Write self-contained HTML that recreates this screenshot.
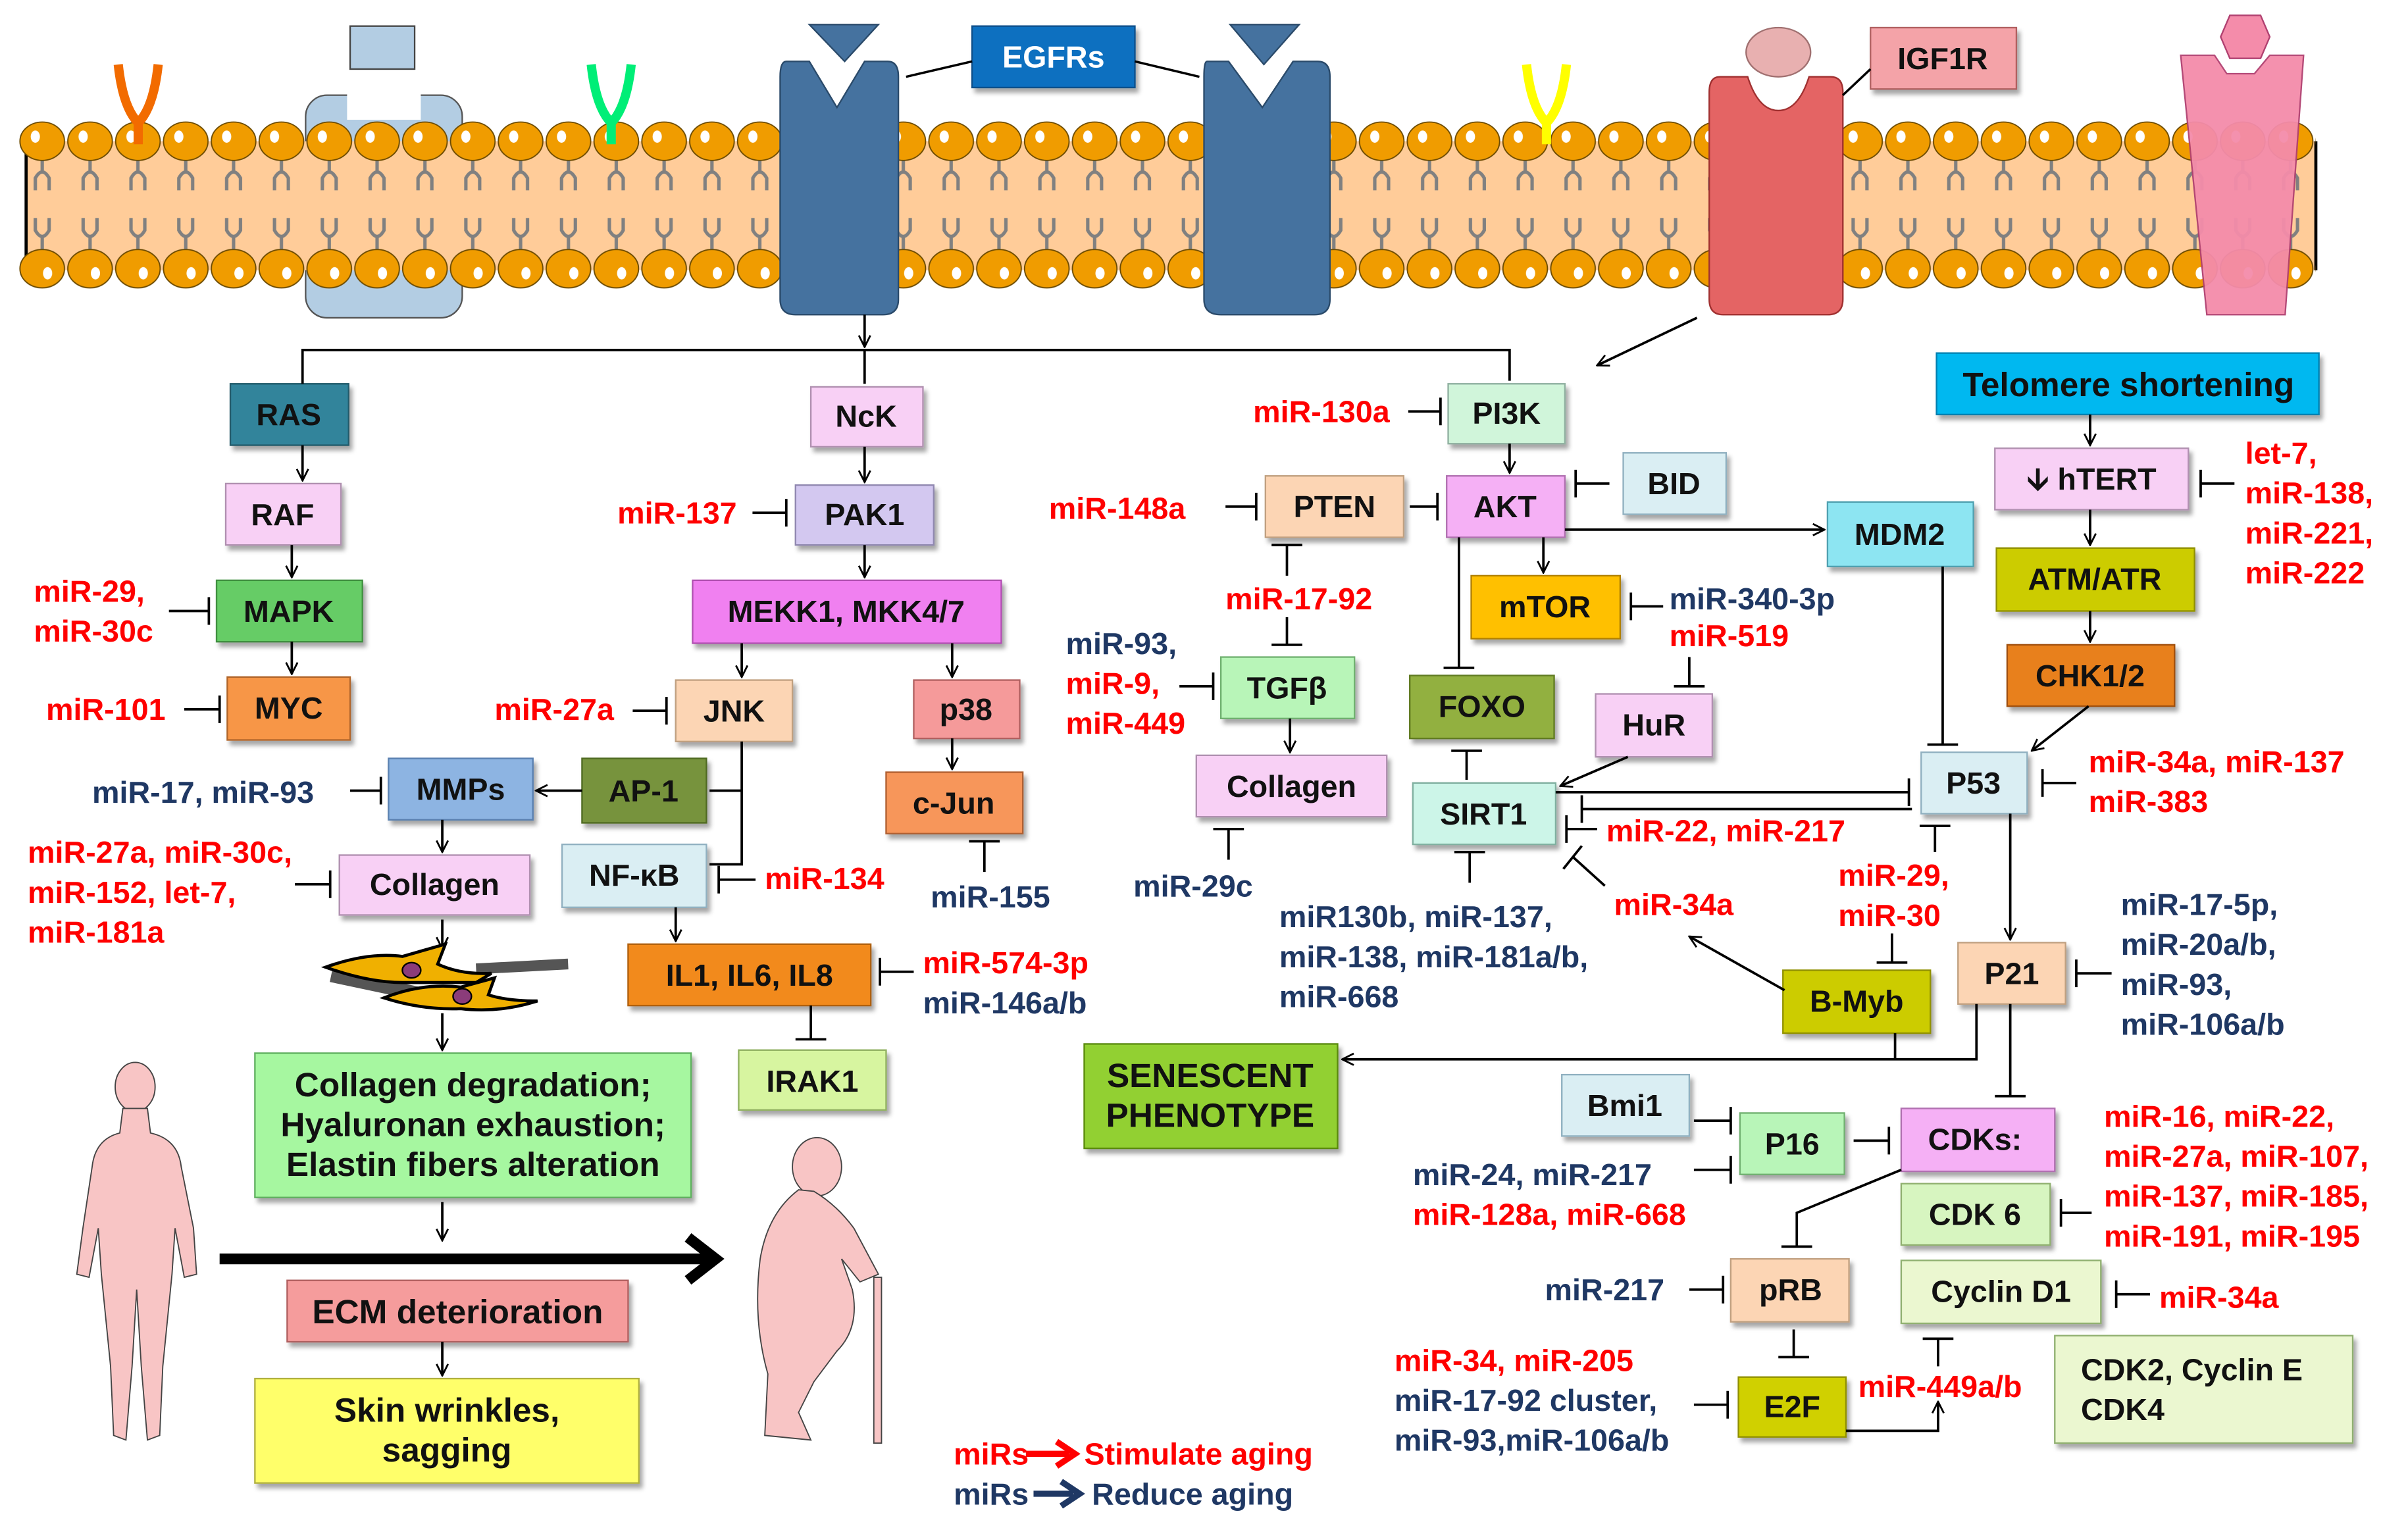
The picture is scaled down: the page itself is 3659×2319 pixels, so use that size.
<!DOCTYPE html>
<html><head><meta charset="utf-8"><style>
html,body{margin:0;padding:0;background:#fff;}
svg{display:block;}
text{font-family:"Liberation Sans",Arial,sans-serif;font-weight:bold;}
</style></head><body>
<svg width="3659" height="2319" viewBox="0 0 1568 994" preserveAspectRatio="none" xmlns="http://www.w3.org/2000/svg">
<defs>
<marker id="ar" viewBox="0 0 12 12" refX="11" refY="6" markerWidth="9" markerHeight="9" orient="auto" markerUnits="userSpaceOnUse">
<path d="M1,1 L11,6 L1,11" fill="none" stroke="#000" stroke-width="1.6"/></marker>
<pattern id="lip" x="12" y="78" width="31.15" height="112" patternUnits="userSpaceOnUse">
<g stroke="#808080" stroke-width="2.2" fill="none">
<path d="M15.5,24 V34 M11,46 V38 Q15.5,30 20,38 V46"/>
<path d="M15.5,86 V76 M11,64 V72 Q15.5,80 20,72 V64"/>
</g>
<ellipse cx="15.5" cy="14" rx="14.5" ry="12.5" fill="#F09C00" stroke="#6b4a00" stroke-width="0.8"/>
<ellipse cx="11" cy="11" rx="3" ry="4" fill="#fff"/>
<ellipse cx="15.5" cy="97" rx="14.5" ry="12.5" fill="#F09C00" stroke="#6b4a00" stroke-width="0.8"/>
<ellipse cx="19" cy="100" rx="3" ry="4" fill="#fff"/>
</pattern>
<filter id="sh" x="-10%" y="-10%" width="130%" height="140%"><feDropShadow dx="2" dy="3" stdDeviation="1.5" flood-color="#000" flood-opacity="0.35"/></filter>
</defs>

<!-- membrane -->
<rect x="199" y="62" width="102" height="145" rx="14" fill="#B3CDE3" stroke="#555" stroke-width="1"/>
<rect x="226" y="60" width="48" height="18" fill="#fff"/>
<rect x="228" y="17" width="42" height="28" fill="#B3CDE3" stroke="#444" stroke-width="1"/>
<rect x="17" y="92" width="1491" height="84" fill="#FFCC99"/>
<line x1="17" y1="92" x2="17" y2="176" stroke="#000" stroke-width="2"/>
<line x1="1508" y1="92" x2="1508" y2="176" stroke="#000" stroke-width="2"/>
<rect x="12" y="78" width="1496" height="112" fill="url(#lip)"/>
<path d="M77,42 Q80,70 90,80 Q100,70 103,42" fill="none" stroke="#F26B00" stroke-width="6"/><line x1="90" y1="78" x2="90" y2="94" stroke="#F26B00" stroke-width="6"/>
<path d="M385,42 Q388,70 398,80 Q408,70 411,42" fill="none" stroke="#00EE77" stroke-width="6"/><line x1="398" y1="78" x2="398" y2="94" stroke="#00EE77" stroke-width="6"/>
<path d="M994,42 Q997,70 1007,80 Q1017,70 1020,42" fill="none" stroke="#FFFF00" stroke-width="6"/><line x1="1007" y1="78" x2="1007" y2="94" stroke="#FFFF00" stroke-width="6"/>
<path d="M512,40 H527 L545,70 L563,40 H578 Q585,40 585,50 V195 Q585,205 575,205 H518 Q508,205 508,195 V50 Q508,40 512,40 Z" fill="#45729F" stroke="#2a4a6a" stroke-width="1"/>
<path d="M527,16 H572 L550,40 Z" fill="#45729F" stroke="#2a4a6a"/>
<path d="M786,40 H800 L822,70 L842,40 H858 Q866,40 866,50 V195 Q866,205 856,205 H795 Q784,205 784,195 V50 Q784,40 786,40 Z" fill="#45729F" stroke="#2a4a6a" stroke-width="1"/>
<path d="M801,16 H846 L823,42 Z" fill="#45729F" stroke="#2a4a6a"/>
<path d="M1120,50 H1138 Q1145,72 1158,72 Q1171,72 1178,50 H1192 Q1200,50 1200,60 V195 Q1200,205 1190,205 H1122 Q1113,205 1113,195 V60 Q1113,50 1120,50 Z" fill="#E46464" stroke="#a03030" stroke-width="1"/>
<ellipse cx="1158" cy="34" rx="21" ry="16" fill="#E8B0B0" stroke="#a07070"/>
<path d="M1420,36 H1442 L1450,48 H1468 L1478,36 H1500 L1488,205 H1437 Z" fill="#F48CAA" stroke="#b04070" stroke-width="1" opacity="0.95"/>
<path d="M1446,24 L1452,10 H1472 L1478,24 L1472,38 H1452 Z" fill="#F48CAA" stroke="#b04070"/>

<g filter="url(#sh)">
<rect x="633" y="17" width="106" height="40" fill="#0C6FC0" stroke="#0a4f8a"/>
<rect x="1218" y="18" width="95" height="40" fill="#F4A3A8" stroke="#b06060"/>
</g>
<text x="686" y="44" font-size="20" fill="#fff" text-anchor="middle">EGFRs</text>
<text x="1265" y="45" font-size="20" fill="#111" text-anchor="middle">IGF1R</text>
<line x1="633" y1="40" x2="590" y2="50" stroke="#000" stroke-width="1.5"/>
<line x1="739" y1="40" x2="781" y2="50" stroke="#000" stroke-width="1.5"/>
<line x1="1218" y1="45" x2="1200" y2="62" stroke="#000" stroke-width="1.5"/>

<g filter="url(#sh)" stroke-width="1">
<rect x="150" y="250" width="77" height="40" fill="#31849B" stroke="#205a6a"/>
<rect x="147" y="315" width="75" height="40" fill="#F8D0F5" stroke="#b090b0"/>
<rect x="141" y="378" width="95" height="40" fill="#66CC66" stroke="#3f8f3f"/>
<rect x="148" y="441" width="80" height="41" fill="#F79646" stroke="#b0652a"/>
<rect x="253" y="494" width="94" height="40" fill="#8DB4E2" stroke="#5a80b0"/>
<rect x="379" y="494" width="81" height="42" fill="#77933C" stroke="#4f6a20"/>
<rect x="221" y="557" width="124" height="39" fill="#F8D0F5" stroke="#b090b0"/>
<rect x="366" y="550" width="94" height="41" fill="#DAEEF3" stroke="#90b0c0"/>
<rect x="528" y="252" width="73" height="39" fill="#F8D0F5" stroke="#b090b0"/>
<rect x="518" y="316" width="90" height="39" fill="#D3C8F0" stroke="#9088b0"/>
<rect x="451" y="378" width="201" height="41" fill="#F080F0" stroke="#b050b0"/>
<rect x="440" y="443" width="76" height="40" fill="#FCD5B4" stroke="#c0a080"/>
<rect x="595" y="443" width="69" height="38" fill="#F59A9A" stroke="#b06060"/>
<rect x="577" y="503" width="89" height="40" fill="#F7965A" stroke="#b06030"/>
<rect x="409" y="615" width="158" height="40" fill="#F28A1E" stroke="#b06010"/>
<rect x="481" y="684" width="96" height="39" fill="#D7F5A0" stroke="#90b060"/>
<rect x="166" y="686" width="284" height="94" fill="#A6F7A0" stroke="#60b060"/>
<rect x="187" y="834" width="222" height="40" fill="#F59C9C" stroke="#b06060"/>
<rect x="166" y="898" width="250" height="68" fill="#FFFF6A" stroke="#b0b040"/>
<rect x="943" y="250" width="76" height="39" fill="#D0F5DA" stroke="#90b0a0"/>
<rect x="824" y="310" width="90" height="40" fill="#FCD5B4" stroke="#c0a080"/>
<rect x="942" y="310" width="77" height="40" fill="#F5B0F5" stroke="#b070b0"/>
<rect x="1057" y="295" width="67" height="40" fill="#DAEEF3" stroke="#90b0c0"/>
<rect x="1190" y="327" width="95" height="42" fill="#8DE5F2" stroke="#50a0b0"/>
<rect x="958" y="375" width="97" height="41" fill="#FFC000" stroke="#b08000"/>
<rect x="918" y="440" width="94" height="41" fill="#92B040" stroke="#607a20"/>
<rect x="1039" y="452" width="76" height="41" fill="#F8D0F5" stroke="#b090b0"/>
<rect x="795" y="428" width="87" height="40" fill="#B8F5B8" stroke="#70b070"/>
<rect x="779" y="492" width="124" height="40" fill="#F8D0F5" stroke="#b090b0"/>
<rect x="920" y="510" width="93" height="40" fill="#CCF5E8" stroke="#80b0a0"/>
<rect x="1251" y="490" width="69" height="40" fill="#DAEEF3" stroke="#90b0c0"/>
<rect x="1261" y="230" width="249" height="40" fill="#00B8F0" stroke="#0080b0"/>
<rect x="1299" y="292" width="126" height="40" fill="#F8D0F5" stroke="#b090b0"/>
<rect x="1300" y="357" width="129" height="41" fill="#CCCC00" stroke="#909000"/>
<rect x="1307" y="420" width="109" height="40" fill="#E8801E" stroke="#a05010"/>
<rect x="1275" y="614" width="70" height="40" fill="#FCD5B4" stroke="#c0a080"/>
<rect x="1161" y="632" width="96" height="41" fill="#CCCC00" stroke="#909000"/>
<rect x="706" y="680" width="165" height="68" fill="#92D030" stroke="#5a8a10"/>
<rect x="1017" y="700" width="83" height="40" fill="#DAEEF3" stroke="#90b0c0"/>
<rect x="1133" y="725" width="68" height="40" fill="#B8F5B8" stroke="#70b070"/>
<rect x="1238" y="722" width="100" height="41" fill="#F5B0F5" stroke="#b070b0"/>
<rect x="1238" y="771" width="97" height="40" fill="#D7F5C0" stroke="#90b070"/>
<rect x="1238" y="821" width="130" height="41" fill="#EBF7D0" stroke="#90b070"/>
<rect x="1338" y="870" width="194" height="70" fill="#EBF7D0" stroke="#90b070"/>
<rect x="1127" y="820" width="77" height="41" fill="#FCD5B4" stroke="#c0a080"/>
<rect x="1132" y="897" width="70" height="39" fill="#D0D000" stroke="#909000"/>
</g>

<g font-size="20" fill="#111" text-anchor="middle">
<text x="188" y="277">RAS</text>
<text x="184" y="342">RAF</text>
<text x="188" y="405">MAPK</text>
<text x="188" y="468">MYC</text>
<text x="300" y="521">MMPs</text>
<text x="419" y="522">AP-1</text>
<text x="283" y="583">Collagen</text>
<text x="413" y="577">NF-κB</text>
<text x="564" y="278">NcK</text>
<text x="563" y="342">PAK1</text>
<text x="551" y="405">MEKK1, MKK4/7</text>
<text x="478" y="470">JNK</text>
<text x="629" y="469">p38</text>
<text x="621" y="530">c-Jun</text>
<text x="488" y="642">IL1, IL6, IL8</text>
<text x="529" y="711">IRAK1</text>
<text x="981" y="276">PI3K</text>
<text x="869" y="337">PTEN</text>
<text x="980" y="337">AKT</text>
<text x="1090" y="322">BID</text>
<text x="1237" y="355">MDM2</text>
<text x="1006" y="402">mTOR</text>
<text x="965" y="467">FOXO</text>
<text x="1077" y="479">HuR</text>
<text x="838" y="455">TGFβ</text>
<text x="841" y="519">Collagen</text>
<text x="966" y="537">SIRT1</text>
<text x="1285" y="517">P53</text>
<text x="1362" y="319">🡫 hTERT</text>
<text x="1364" y="384">ATM/ATR</text>
<text x="1361" y="447">CHK1/2</text>
<text x="1310" y="641">P21</text>
<text x="1209" y="659">B-Myb</text>
<text x="1058" y="727">Bmi1</text>
<text x="1167" y="752">P16</text>
<text x="1286" y="749">CDKs:</text>
<text x="1286" y="798">CDK 6</text>
<text x="1303" y="848">Cyclin D1</text>
<text x="1166" y="847">pRB</text>
<text x="1167" y="923">E2F</text>
</g>
<g font-size="22" fill="#111" text-anchor="middle">
<text x="308" y="714">Collagen degradation;</text>
<text x="308" y="740">Hyaluronan exhaustion;</text>
<text x="308" y="766">Elastin fibers alteration</text>
<text x="298" y="862">ECM deterioration</text>
<text x="291" y="926">Skin wrinkles,</text>
<text x="291" y="952">sagging</text>
<text x="1386" y="258">Telomere shortening</text>
<text x="788" y="708">SENESCENT</text>
<text x="788" y="734">PHENOTYPE</text>
</g>
<g font-size="20" fill="#111">
<text x="1355" y="899">CDK2, Cyclin E</text>
<text x="1355" y="925">CDK4</text>
</g>

<g stroke="#000" stroke-width="1.6" fill="none">
<polyline points="197,250 197,228 983,228 983,248"/>
<line x1="563" y1="228" x2="563" y2="250"/>
<line x1="563" y1="205" x2="563" y2="226" marker-end="url(#ar)"/>
<line x1="1105" y1="207" x2="1040" y2="238" marker-end="url(#ar)"/>
<line x1="197" y1="290" x2="197" y2="313" marker-end="url(#ar)"/>
<line x1="190" y1="355" x2="190" y2="376" marker-end="url(#ar)"/>
<line x1="190" y1="418" x2="190" y2="439" marker-end="url(#ar)"/>
<line x1="563" y1="291" x2="563" y2="314" marker-end="url(#ar)"/>
<line x1="563" y1="355" x2="563" y2="376" marker-end="url(#ar)"/>
<line x1="483" y1="419" x2="483" y2="441" marker-end="url(#ar)"/>
<line x1="620" y1="419" x2="620" y2="441" marker-end="url(#ar)"/>
<line x1="620" y1="481" x2="620" y2="501" marker-end="url(#ar)"/>
<polyline points="483,483 483,563 462,563"/>
<line x1="483" y1="515" x2="462" y2="515"/>
<line x1="379" y1="515" x2="349" y2="515" marker-end="url(#ar)"/>
<line x1="288" y1="534" x2="288" y2="555" marker-end="url(#ar)"/>
<line x1="288" y1="599" x2="288" y2="618" marker-end="url(#ar)"/>
<line x1="288" y1="660" x2="288" y2="684" marker-end="url(#ar)"/>
<line x1="440" y1="591" x2="440" y2="613" marker-end="url(#ar)"/>
<line x1="288" y1="783" x2="288" y2="808" marker-end="url(#ar)"/>
<line x1="288" y1="874" x2="288" y2="896" marker-end="url(#ar)"/>
<line x1="983" y1="289" x2="983" y2="308" marker-end="url(#ar)"/>
<line x1="1019" y1="345" x2="1188" y2="345" marker-end="url(#ar)"/>
<line x1="1005" y1="350" x2="1005" y2="373" marker-end="url(#ar)"/>
<line x1="840" y1="468" x2="840" y2="490" marker-end="url(#ar)"/>
<line x1="1060" y1="493" x2="1016" y2="512" marker-end="url(#ar)"/>
<line x1="1361" y1="270" x2="1361" y2="290" marker-end="url(#ar)"/>
<line x1="1361" y1="332" x2="1361" y2="355" marker-end="url(#ar)"/>
<line x1="1361" y1="398" x2="1361" y2="418" marker-end="url(#ar)"/>
<line x1="1360" y1="460" x2="1323" y2="489" marker-end="url(#ar)"/>
<line x1="1309" y1="530" x2="1309" y2="612" marker-end="url(#ar)"/>
<line x1="1162" y1="645" x2="1100" y2="610" marker-end="url(#ar)"/>
<polyline points="1287,654 1287,690 874,690" marker-end="url(#ar)"/>
<line x1="1234" y1="673" x2="1234" y2="690"/>
<polyline points="1202,932 1262,932 1262,913" marker-end="url(#ar)"/>
<path d="M110,398 H136 M136,389 V407"/>
<path d="M120,462 H143 M143,453 V471"/>
<path d="M490,334 H512 M512,325 V343"/>
<path d="M412,463 H434 M434,454 V472"/>
<path d="M641,568 V548 M631,548 H651"/>
<path d="M228,515 H248 M248,506 V524"/>
<path d="M192,576 H215 M215,567 V585"/>
<path d="M492,573 H468 M468,564 V582"/>
<path d="M595,633 H573 M573,624 V642"/>
<path d="M528,655 V677 M518,677 H538"/>
<path d="M917,268 H938 M938,259 V277"/>
<path d="M918,330 H936 M936,321 V339"/>
<path d="M798,330 H818 M818,321 V339"/>
<path d="M1048,315 H1026 M1026,306 V324"/>
<path d="M1083,395 H1062 M1062,386 V404"/>
<path d="M1100,428 V447 M1090,447 H1110"/>
<path d="M950,350 V435 M940,435 H960"/>
<path d="M838,375 V355 M828,355 H848"/>
<path d="M838,402 V420 M828,420 H848"/>
<path d="M768,447 H790 M790,438 V456"/>
<path d="M800,560 V540 M790,540 H810"/>
<path d="M955,508 V489 M945,489 H965"/>
<path d="M1013,516 H1243 M1243,507 V525"/>
<path d="M1245,527 H1030 M1030,518 V536"/>
<path d="M1040,540 H1020 M1020,531 V549"/>
<path d="M1045,577 L1024,558 M1018,566 L1030,551"/>
<path d="M957,575 V555 M947,555 H967"/>
<path d="M1265,369 V485 M1255,485 H1275"/>
<path d="M1352,510 H1330 M1330,501 V519"/>
<path d="M1455,315 H1433 M1433,306 V324"/>
<path d="M1260,555 V538 M1250,538 H1270"/>
<path d="M1232,608 V627 M1222,627 H1242"/>
<path d="M1375,634 H1352 M1352,625 V643"/>
<path d="M1309,654 V714 M1299,714 H1319"/>
<path d="M1103,730 H1127 M1127,721 V739"/>
<path d="M1103,762 H1127 M1127,753 V771"/>
<path d="M1207,743 H1230 M1230,734 V752"/>
<path d="M1238,762 L1170,790 V812 M1160,812 H1180"/>
<path d="M1100,840 H1122 M1122,831 V849"/>
<path d="M1362,790 H1342 M1342,781 V799"/>
<path d="M1400,843 H1378 M1378,834 V852"/>
<path d="M1168,866 V884 M1158,884 H1178"/>
<path d="M1103,915 H1125 M1125,906 V924"/>
<path d="M1262,890 V872 M1252,872 H1272"/>
</g>
<line x1="143" y1="820" x2="462" y2="820" stroke="#000" stroke-width="7"/>
<path d="M448,806 L466,820 L448,834" fill="none" stroke="#000" stroke-width="7"/>

<g>
<rect x="215" y="638" width="70" height="9" fill="#555" transform="rotate(12 250 642)"/>
<rect x="310" y="626" width="60" height="7" fill="#555" transform="rotate(-3 340 630)"/>
<path d="M212,630 Q240,620 262,623 L290,615 L285,628 Q300,635 320,634 L310,640 Q285,640 262,640 Q240,640 212,630Z" fill="#F0B000" stroke="#000" stroke-width="2"/>
<path d="M250,650 Q275,640 300,643 L322,637 L318,648 Q330,652 350,652 Q325,660 300,657 Q275,658 250,650Z" fill="#F0B000" stroke="#000" stroke-width="2"/>
<ellipse cx="268" cy="632" rx="6" ry="5" fill="#8B3C7A" stroke="#000"/>
<ellipse cx="301" cy="649" rx="6" ry="5" fill="#8B3C7A" stroke="#000"/>
</g>

<g fill="#F8C5C5" stroke="#444" stroke-width="0.8">
<ellipse cx="88" cy="708" rx="13" ry="16"/>
<path d="M80,722 L96,722 L98,738 Q116,742 118,760 L126,800 L128,830 L120,832 L114,800 L112,830 L106,890 L104,935 L96,938 L92,890 L89,840 L86,890 L82,938 L74,935 L72,890 L66,830 L64,800 L58,832 L50,830 L54,800 L60,760 Q62,742 78,738 Z"/>
<ellipse cx="532" cy="760" rx="16" ry="19"/>
<path d="M520,775 Q500,790 495,820 Q490,860 500,895 L498,935 L528,938 L520,920 L530,900 L545,880 Q560,865 555,840 L548,820 L560,835 L572,830 L556,800 Q545,785 530,776Z"/>
<rect x="569" y="832" width="5" height="108"/>
</g>

<g font-size="20" fill="#FF0000">
<text x="22" y="392">miR-29,</text><text x="22" y="418">miR-30c</text>
<text x="30" y="469">miR-101</text>
<text x="18" y="562">miR-27a, miR-30c,</text><text x="18" y="588">miR-152, let-7,</text><text x="18" y="614">miR-181a</text>
<text x="402" y="341">miR-137</text>
<text x="322" y="469">miR-27a</text>
<text x="498" y="579">miR-134</text>
<text x="601" y="634">miR-574-3p</text>
<text x="816" y="275">miR-130a</text>
<text x="683" y="338">miR-148a</text>
<text x="798" y="397">miR-17-92</text>
<text x="694" y="452">miR-9,</text><text x="694" y="478">miR-449</text>
<text x="1087" y="421">miR-519</text>
<text x="1046" y="548">miR-22, miR-217</text>
<text x="1051" y="596">miR-34a</text>
<text x="1197" y="577">miR-29,</text><text x="1197" y="603">miR-30</text>
<text x="1462" y="302">let-7,</text><text x="1462" y="328">miR-138,</text><text x="1462" y="354">miR-221,</text><text x="1462" y="380">miR-222</text>
<text x="1360" y="503">miR-34a, miR-137</text><text x="1360" y="529">miR-383</text>
<text x="1370" y="734">miR-16, miR-22,</text><text x="1370" y="760">miR-27a, miR-107,</text><text x="1370" y="786">miR-137, miR-185,</text><text x="1370" y="812">miR-191, miR-195</text>
<text x="920" y="798">miR-128a, miR-668</text>
<text x="1406" y="852">miR-34a</text>
<text x="908" y="893">miR-34, miR-205</text>
<text x="1210" y="910">miR-449a/b</text>
<text x="621" y="954">miRs</text><text x="706" y="954">Stimulate aging</text>
</g>
<g font-size="20" fill="#1F3864">
<text x="60" y="523">miR-17, miR-93</text>
<text x="606" y="591">miR-155</text>
<text x="601" y="660">miR-146a/b</text>
<text x="694" y="426">miR-93,</text>
<text x="738" y="584">miR-29c</text>
<text x="1087" y="397">miR-340-3p</text>
<text x="833" y="604">miR130b, miR-137,</text><text x="833" y="630">miR-138, miR-181a/b,</text><text x="833" y="656">miR-668</text>
<text x="1381" y="596">miR-17-5p,</text><text x="1381" y="622">miR-20a/b,</text><text x="1381" y="648">miR-93,</text><text x="1381" y="674">miR-106a/b</text>
<text x="920" y="772">miR-24, miR-217</text>
<text x="1006" y="847">miR-217</text>
<text x="908" y="919">miR-17-92 cluster,</text><text x="908" y="945">miR-93,miR-106a/b</text>
<text x="621" y="980">miRs</text><text x="711" y="980">Reduce aging</text>
</g>
<path d="M668,947 H696 M688,939 L700,947 L688,955" fill="none" stroke="#FF0000" stroke-width="4"/>
<path d="M673,973 H699 M691,965 L703,973 L691,981" fill="none" stroke="#1F3864" stroke-width="4"/>
</svg>
</body></html>
